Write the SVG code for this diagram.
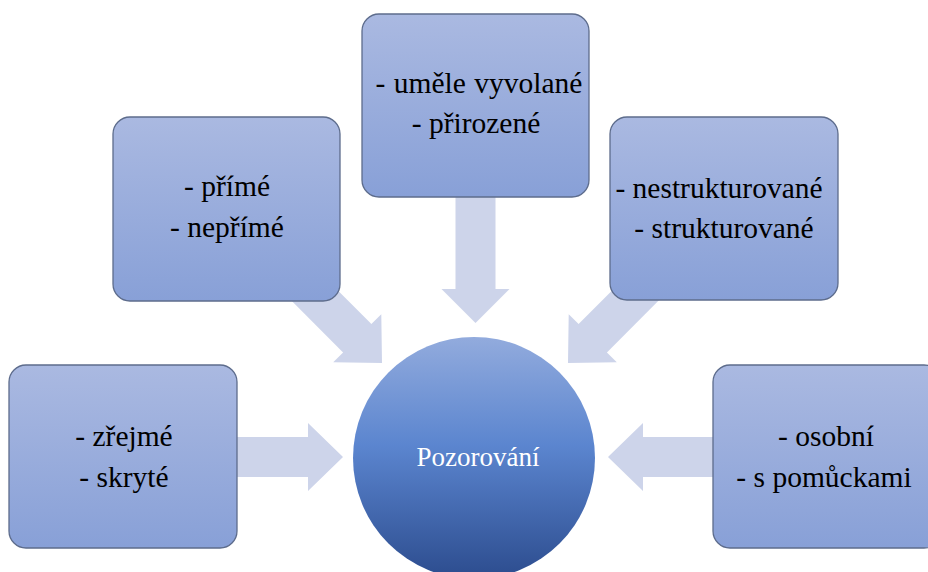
<svg xmlns="http://www.w3.org/2000/svg" width="928" height="572" viewBox="0 0 928 572">
<defs>
<linearGradient id="boxGrad" x1="0" y1="0" x2="0" y2="1">
<stop offset="0" stop-color="#aab9e1"/>
<stop offset="1" stop-color="#88a0d7"/>
</linearGradient>
<linearGradient id="circGrad" x1="0" y1="0" x2="0" y2="1">
<stop offset="0" stop-color="#92abdd"/>
<stop offset="0.45" stop-color="#5b85cf"/>
<stop offset="1" stop-color="#2c4c8e"/>
</linearGradient>
<path id="arrowH" d="M0,0 L-35,-34 L-35,-20 L-110,-20 L-110,20 L-35,20 L-35,34 Z"/>
</defs>
<style>
.box{fill:url(#boxGrad);stroke:#5d6c8c;stroke-width:1.3}
.arrow{fill:#cdd4ea}
.t{font-family:"Liberation Serif","Times New Roman",serif;font-size:29.5px;fill:#000;text-anchor:middle}
.c{font-family:"Liberation Serif","Times New Roman",serif;font-size:27px;fill:#fff;text-anchor:middle}
</style>
<rect width="928" height="572" fill="#fff"/>
<g id="connectors">
<path class="arrow" d="M343,457 L308,423 L308,437 L230,437 L230,477 L308,477 L308,491 Z"/>
<path class="arrow" d="M608,457 L643,423 L643,437 L720,437 L720,477 L643,477 L643,491 Z"/>
<path class="arrow" d="M475.5,323 L441.5,289 L455.5,289 L455.5,190 L495.5,190 L495.5,289 L509.5,289 Z"/>
<use href="#arrowH" class="arrow" transform="translate(382,363) rotate(45)"/>
<use href="#arrowH" class="arrow" transform="translate(568,363) rotate(135)"/>
</g>
<g id="center">
<circle cx="474" cy="458" r="121" fill="url(#circGrad)"/>
<text class="c" x="478" y="466">Pozorování</text>
</g>
<g id="node-left">
<rect class="box" x="9" y="365" width="228" height="183" rx="17"/>
<text class="t" x="124" y="446">- zřejmé</text>
<text class="t" x="124" y="487">- skryté</text>
</g>
<g id="node-topleft">
<rect class="box" x="113" y="117" width="227" height="184" rx="17"/>
<text class="t" x="227" y="196">- přímé</text>
<text class="t" x="227" y="237">- nepřímé</text>
</g>
<g id="node-top">
<rect class="box" x="362" y="14" width="227" height="183" rx="17"/>
<text class="t" x="479" y="93" word-spacing="1">- uměle vyvolané</text>
<text class="t" x="476" y="133">- přirozené</text>
</g>
<g id="node-topright">
<rect class="box" x="610" y="117" width="228" height="183" rx="17"/>
<text class="t" x="719" y="198">- nestrukturované</text>
<text class="t" x="724" y="238">- strukturované</text>
</g>
<g id="node-right">
<rect class="box" x="713" y="365" width="228" height="183" rx="17"/>
<text class="t" x="826" y="446">- osobní</text>
<text class="t" x="824" y="487">- s pomůckami</text>
</g>
</svg>
